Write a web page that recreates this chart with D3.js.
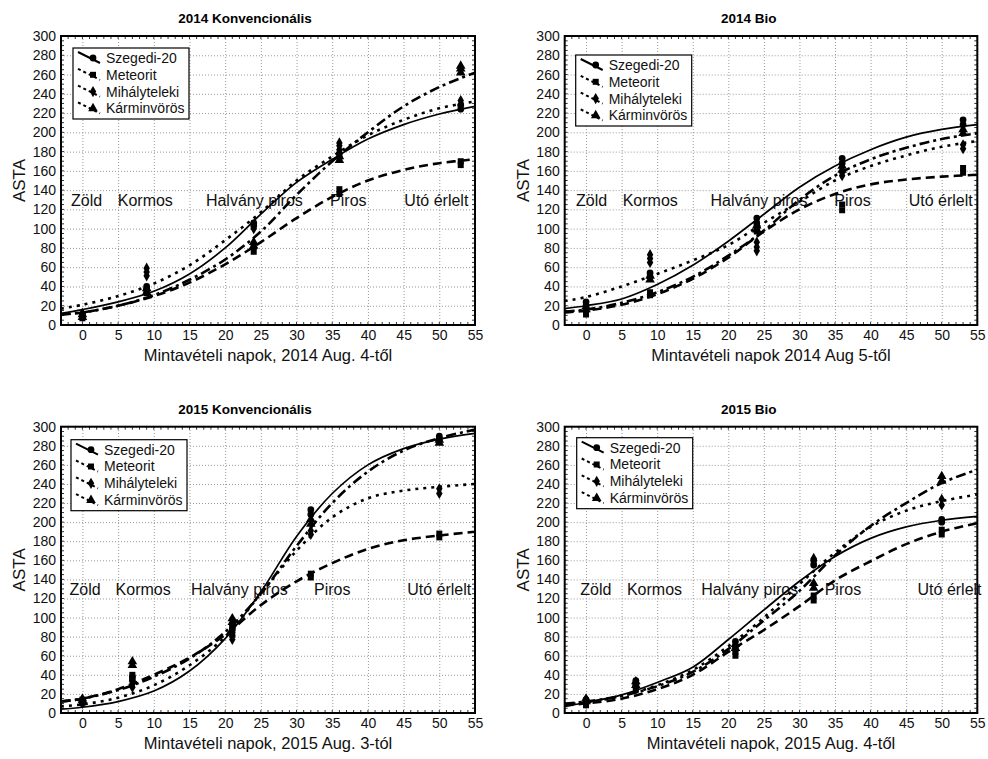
<!DOCTYPE html>
<html>
<head>
<meta charset="utf-8">
<script src="https://cdn.jsdelivr.net/npm/d3@7"></script>
<style>
body { margin: 0; background: #fff; }
svg { font-family: "Liberation Sans", Arial, sans-serif; }
</style>
</head>
<body>
<svg id="chart" width="988" height="759"></svg>
<script>
// fajták (legend order)
var varieties = ['Szegedi-20', 'Meteorit', 'Mihályteleki', 'Kárminvörös'];
var stages = ['Zöld', 'Kormos', 'Halvány piros', 'Piros', 'Utó érlelt'];
var xTicks = [0, 5, 10, 15, 20, 25, 30, 35, 40, 45, 50, 55];
var yTicks = [0, 20, 40, 60, 80, 100, 120, 140, 160, 180, 200, 220, 240, 260, 280, 300];

// sampling days
var days2014 = [0, 9, 24, 36, 53];
var days2015 = [0, 7, 21, 32, 50];

// measured ASTA (replicates per sampling day)
var szeg14K = [[8, 11], [37, 40], [103, 106], [174, 178], [224, 228]];
var met14K  = [[7, 10], [33, 36], [76, 81], [136, 141], [166, 170]];
var mih14K  = [[9, 12], [51, 55, 59], [100, 104], [182, 186, 189], [229, 233]];
var kar14K  = [[8, 11], [34, 38], [82, 86], [171, 175], [262, 266, 269]];

var szeg14B = [[20, 24], [50, 54], [106, 111], [168, 173], [208, 213]];
var met14B  = [[11, 15], [31, 34], [97, 101], [119, 125], [158, 163]];
var mih14B  = [[13, 17], [65, 69, 73], [77, 81, 86], [155, 158], [183, 187]];
var kar14B  = [[16, 19], [47, 51], [99, 103], [161, 165], [199, 203]];

var szeg15K = [[10, 13], [34, 38], [88, 93], [208, 213], [287, 290]];
var met15K  = [[11, 14], [36, 40], [82, 87, 92], [142, 146], [184, 188]];
var mih15K  = [[10, 12], [27, 30], [77, 81], [187, 191], [230, 235]];
var kar15K  = [[13, 15], [50, 54], [95, 99], [198, 203], [283, 286]];

var szeg15B = [[11, 14], [30, 34], [70, 75], [155, 160], [200, 203]];
var met15B  = [[8, 11], [25, 28], [60, 64], [118, 123], [187, 192]];
var mih15B  = [[10, 13], [27, 31], [65, 69], [157, 162], [218, 224]];
var kar15B  = [[12, 15], [29, 33], [68, 72], [131, 136], [243, 248]];

var curveDays = [-3, 0, 5, 10, 15, 20, 25, 30, 35, 40, 45, 50, 55];

var szegFit14K = [12, 16, 24, 35, 53, 80, 115, 148, 172, 193, 208, 219, 227];
var metFit14K  = [11, 13, 20, 30, 44, 63, 86, 111, 133, 150, 161, 168, 172];
var mihFit14K  = [17, 21, 30, 43, 62, 88, 117, 150, 175, 197, 213, 225, 232];
var karFit14K  = [11, 13, 20, 31, 47, 68, 97, 135, 170, 200, 227, 247, 262];

var szegFit14B = [17, 20, 27, 42, 62, 87, 115, 143, 165, 182, 195, 203, 208];
var metFit14B  = [13, 15, 21, 32, 48, 70, 97, 120, 136, 146, 151, 154, 156];
var mihFit14B  = [25, 29, 40, 53, 67, 83, 106, 128, 150, 165, 176, 185, 191];
var karFit14B  = [14, 16, 23, 34, 50, 72, 98, 130, 155, 172, 184, 193, 199];

var szegFit15K = [4, 6, 12, 23, 44, 78, 127, 185, 230, 260, 277, 287, 293];
var metFit15K  = [12, 15, 25, 40, 58, 82, 113, 138, 157, 172, 181, 186, 190];
var mihFit15K  = [7, 9, 16, 29, 50, 80, 125, 170, 205, 225, 233, 237, 240];
var karFit15K  = [12, 15, 24, 38, 57, 85, 125, 175, 220, 253, 275, 288, 297];

var szegFit15B = [7, 11, 19, 32, 48, 77, 108, 138, 164, 183, 195, 202, 206];
var metFit15B  = [8, 10, 15, 25, 40, 64, 87, 112, 139, 159, 177, 190, 199];
var mihFit15B  = [9, 11, 18, 29, 45, 70, 100, 135, 168, 195, 212, 222, 229];
var karFit15B  = [10, 12, 18, 28, 43, 67, 97, 128, 165, 196, 220, 241, 255];

// where the stage names sit (in days)
var stageX14K = [-1.6, 4.95, 17.3, 34.7, 45.1];
var stageX14B = [-1.4, 5.15, 17.5, 34.9, 45.35];
var stageX15K = [-1.8, 4.65, 15.2, 32.45, 45.5];
var stageX15B = [-0.8, 5.75, 16.2, 33.55, 46.6];

var panels = [
  {title: '2014 Konvencionális', xlabel: 'Mintavételi napok, 2014 Aug. 4-től',
   left: 61, top: 36, w: 414, h: 289, days: days2014,
   pts: [szeg14K, met14K, mih14K, kar14K], fits: [szegFit14K, metFit14K, mihFit14K, karFit14K],
   stageX: stageX14K, leg: [12, 12]},
  {title: '2014 Bio', xlabel: 'Mintavételi napok 2014 Aug 5-től',
   left: 564.7, top: 36, w: 412.6, h: 289, days: days2014,
   pts: [szeg14B, met14B, mih14B, kar14B], fits: [szegFit14B, metFit14B, mihFit14B, karFit14B],
   stageX: stageX14B, leg: [11, 19]},
  {title: '2015 Konvencionális', xlabel: 'Mintavételi napok, 2015 Aug. 3-tól',
   left: 61, top: 426.7, w: 414, h: 286.3, days: days2015,
   pts: [szeg15K, met15K, mih15K, kar15K], fits: [szegFit15K, metFit15K, mihFit15K, karFit15K],
   stageX: stageX15K, leg: [10, 13]},
  {title: '2015 Bio', xlabel: 'Mintavételi napok, 2015 Aug. 4-től',
   left: 564.7, top: 426.7, w: 412.6, h: 286.3, days: days2015,
   pts: [szeg15B, met15B, mih15B, kar15B], fits: [szegFit15B, metFit15B, mihFit15B, karFit15B],
   stageX: stageX15B, leg: [12, 11]}
];

var dashes = [null, '9,5', '3,5', '10,4,3,4'];
var symbols = [d3.symbolCircle, d3.symbolSquare, d3.symbolDiamond, d3.symbolTriangle];
var symSize = [36, 36, 36, 40];

var svg = d3.select('#chart');

function drawPanel(p, pi) {
  var g = svg.append('g').attr('transform', 'translate(' + p.left + ',' + p.top + ')');
  var x = d3.scaleLinear().domain([-3, 55]).range([0, p.w]);
  var y = d3.scaleLinear().domain([0, 300]).range([p.h, 0]);

  g.append('clipPath').attr('id', 'clip' + pi)
    .append('rect').attr('width', p.w).attr('height', p.h);

  // grid
  g.append('g').attr('transform', 'translate(0,' + p.h + ')')
    .call(d3.axisBottom(x).tickValues(xTicks).tickSize(-p.h).tickFormat(''))
    .call(function(a) { a.select('.domain').remove(); })
    .selectAll('line').attr('stroke', '#999').attr('stroke-dasharray', '1,2');
  g.append('g')
    .call(d3.axisLeft(y).tickValues(yTicks).tickSize(-p.w).tickFormat(''))
    .call(function(a) { a.select('.domain').remove(); })
    .selectAll('line').attr('stroke', '#999').attr('stroke-dasharray', '1,2');

  // minor ticks along the frame
  var minorX = d3.range(-3, 56, 1), minorY = d3.range(0, 301, 5);
  g.append('g').selectAll('line').data(minorX).enter().append('line')
    .attr('x1', function(d) { return x(d); }).attr('x2', function(d) { return x(d); })
    .attr('y1', 0).attr('y2', 3).attr('stroke', '#333');
  g.append('g').selectAll('line').data(minorX).enter().append('line')
    .attr('x1', function(d) { return x(d); }).attr('x2', function(d) { return x(d); })
    .attr('y1', p.h).attr('y2', p.h - 3).attr('stroke', '#333');
  g.append('g').selectAll('line').data(minorY).enter().append('line')
    .attr('y1', function(d) { return y(d); }).attr('y2', function(d) { return y(d); })
    .attr('x1', 0).attr('x2', 3).attr('stroke', '#333');
  g.append('g').selectAll('line').data(minorY).enter().append('line')
    .attr('y1', function(d) { return y(d); }).attr('y2', function(d) { return y(d); })
    .attr('x1', p.w).attr('x2', p.w - 3).attr('stroke', '#333');

  // tick labels
  var ax = g.append('g').attr('transform', 'translate(0,' + p.h + ')')
    .call(d3.axisBottom(x).tickValues(xTicks).tickSize(0).tickPadding(5));
  ax.select('.domain').remove();
  ax.selectAll('text').attr('font-size', 14).attr('fill', '#111').attr('font-family', null);
  var ay = g.append('g')
    .call(d3.axisLeft(y).tickValues(yTicks).tickSize(0).tickPadding(5));
  ay.select('.domain').remove();
  ay.selectAll('text').attr('font-size', 14).attr('fill', '#111').attr('font-family', null);

  // stage names
  g.append('g').selectAll('text').data(stages).enter().append('text')
    .attr('x', function(d, i) { return x(p.stageX[i]); })
    .attr('y', y(130) + 6)
    .attr('font-size', 16).attr('fill', '#111')
    .text(function(d) { return d; });

  // fitted curves
  var line = d3.line()
    .x(function(d, i) { return x(curveDays[i]); })
    .y(function(d) { return y(d); })
    .curve(d3.curveCatmullRom.alpha(0.5));
  var cg = g.append('g').attr('clip-path', 'url(#clip' + pi + ')');
  p.fits.forEach(function(f, k) {
    cg.append('path').attr('d', line(f))
      .attr('fill', 'none').attr('stroke', '#000')
      .attr('stroke-width', k == 0 ? 1.7 : 2.6)
      .attr('stroke-dasharray', dashes[k]);
  });

  // measured points
  p.pts.forEach(function(s, k) {
    var flat = [];
    s.forEach(function(vals, j) {
      vals.forEach(function(v) { flat.push([p.days[j], v]); });
    });
    cg.append('g').selectAll('path').data(flat).enter().append('path')
      .attr('d', d3.symbol().type(symbols[k]).size(symSize[k]))
      .attr('transform', function(d) { return 'translate(' + x(d[0]) + ',' + y(d[1]) + ')'; })
      .attr('fill', '#000');
  });

  // frame
  g.append('rect').attr('width', p.w).attr('height', p.h)
    .attr('fill', 'none').attr('stroke', '#000').attr('stroke-width', 2);

  // legend
  var lg = g.append('g').attr('transform', 'translate(' + p.leg[0] + ',' + p.leg[1] + ')');
  lg.append('rect').attr('width', 116).attr('height', 71)
    .attr('fill', '#fff').attr('stroke', '#000').attr('stroke-width', 1.2);
  varieties.forEach(function(name, k) {
    var ry = 10 + k * 16.8;
    lg.append('line').attr('x1', 5).attr('y1', ry - 6).attr('x2', 27).attr('y2', ry + 5)
      .attr('stroke', '#000').attr('stroke-width', 2)
      .attr('stroke-dasharray', dashes[k] ? '3,3' : null);
    lg.append('path').attr('d', d3.symbol().type(symbols[k]).size(symSize[k])())
      .attr('transform', 'translate(20,' + ry + ')').attr('fill', '#000');
    lg.append('text').attr('x', 33).attr('y', ry + 5).attr('font-size', 14).attr('fill', '#111')
      .text(name);
  });

  // titles
  svg.append('text').attr('x', p.left + 184).attr('y', p.top - 13)
    .attr('text-anchor', 'middle').attr('font-size', 13.5).attr('font-weight', 'bold')
    .text(p.title);
  svg.append('text').attr('x', p.left + p.w / 2).attr('y', p.top + p.h + 36)
    .attr('text-anchor', 'middle').attr('font-size', 16.5).attr('fill', '#111')
    .text(p.xlabel);
  svg.append('text')
    .attr('transform', 'translate(' + (p.left - 42) + ',' + (p.top + p.h / 2) + ') rotate(-90)')
    .attr('dy', '0.35em')
    .attr('text-anchor', 'middle').attr('font-size', 17).attr('fill', '#111')
    .text('ASTA');
}

panels.forEach(drawPanel);
</script>
</body>
</html>
